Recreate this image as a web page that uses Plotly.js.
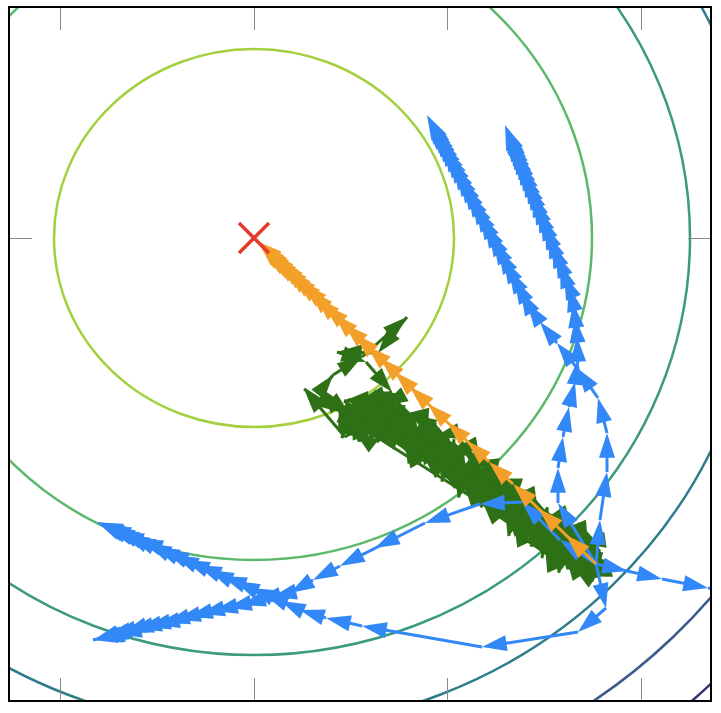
<!DOCTYPE html>
<html><head><meta charset="utf-8">
<script src="https://cdn.plot.ly/plotly-3.0.1.min.js"></script>
<style>html,body{margin:0;padding:0;background:#fff}#chart{width:721px;height:713px}</style>
</head><body><div id="chart"></div>
<script>
// ---- data (units: offset from the minimum) ----
const xTicks = [-194, 0, 193, 387];
const yTicks = [0];

const contourRX = [200, 338, 436, 507, 592, 653];
const contourRY = [189, 322, 417, 491, 565, 624];

const minimumX = [0];
const minimumY = [0];

const orangeX = [342, 312, 285, 259, 235, 213, 193, 174, 156, 141, 126, 113, 101, 90, 80, 70, 62, 55, 48.5, 42.7, 37.6, 33.3, 29, 25.3, 21.7, 18.8, 15.9, 13.8, 11.6, 9.4, 8, 6.5, 5.1, 3.6];
const orangeY = [-326, -297, -271, -246, -224, -203, -184, -166, -149, -134, -120, -108, -96, -86, -76, -67, -59, -52, -46.2, -40.7, -35.9, -31.7, -27.6, -24.2, -20.7, -17.9, -15.2, -13.1, -11, -9, -7.6, -6.2, -4.8, -3.5];

const greenX = [342,
  343, 335, 346, 338, 344,   324, 332, 327, 337, 329,   325, 313, 321, 316, 326,
  308, 314, 304, 313, 305,   300, 296, 307, 299, 302,   293, 285, 296, 288, 294,
  274, 282, 277, 287, 279,   275, 263, 271, 266, 276,   258, 264, 254, 263, 255,
  250, 246, 257, 249, 252,   243, 235, 246, 238, 244,   224, 232, 227, 237, 229,
  225, 213, 221, 216, 226,   208, 214, 204, 213, 205,   200, 196, 207, 199, 202,
  193, 185, 196, 188, 194,   174, 182, 177, 187, 179,   175, 163, 171, 166, 176,
  158, 164, 154, 163, 155,   150, 146, 157, 149, 152,   143, 135, 146, 138, 144,
  124, 132, 127, 137, 129,   125, 113, 121, 116, 126,   108, 114, 104, 113, 105,
  100, 96, 107, 99, 102,     93, 85, 96, 88, 94,
  342, 327, 321, 308, 303, 290, 279, 272, 257, 251, 243, 228, 220, 212, 199, 187, 181, 173, 158, 150, 142, 129, 121, 107, 102, 90,
  339, 332, 317, 311, 300, 293, 278, 271, 262, 247, 240, 231, 218, 213, 199, 192, 180, 167, 161, 152, 138, 130, 123, 109, 101, 88,
  340, 333, 319, 312, 297, 291, 282, 268, 260, 253, 239, 228, 221, 210, 202, 187, 183, 169, 160, 151, 138, 132, 119, 113, 100, 91,
  50, 86, 68, 79, 108, 153, 124, 83, 112, 138, 106, 146, 96, 126, 91];
const greenY = [-326,
  -339.5, -311.1, -320.6, -343.6, -304.4,   -323.9, -302.3, -336.1, -311.7, -296.9,   -328.5, -310.9, -286.4, -332, -298.7,
  -287.6, -331.4, -296.4, -312.2, -334.9,   -278.2, -313.3, -327.3, -294, -283.5,   -315, -278.2, -290.5, -320.3, -269.5,
  -293, -265, -308.8, -277.2, -258,   -293.8, -276.2, -251.7, -297.3, -264,   -250.7, -294.5, -259.5, -275.3, -298,
  -239.2, -274.3, -288.3, -255, -244.5,   -275.4, -238.6, -250.9, -280.7, -229.9,   -253.8, -225.8, -269.6, -238, -218.8,
  -255, -237.4, -212.9, -258.5, -225.2,   -212.3, -256.1, -221.1, -236.9, -259.6,   -201.2, -236.3, -250.3, -217, -206.5,
  -238.4, -201.6, -213.9, -243.7, -192.9,   -217.8, -189.8, -233.6, -202, -182.8,   -220, -202.4, -177.9, -223.5, -190.2,
  -178.3, -222.1, -187.1, -202.9, -225.6,   -167.2, -202.3, -216.3, -183, -172.5,   -200.2, -171.8, -181.3, -204.3, -165.1,
  -188.4, -166.8, -200.6, -176.2, -161.4,   -195.2, -181.6, -162.7, -197.9, -172.2,   -167.1, -200.9, -173.9, -186.1, -203.6,
  -164.4, -191.5, -202.3, -176.6, -168.5,   -196.2, -167.8, -177.3, -200.3, -161.1,
  -303.3, -305.5, -290.7, -291.9, -278, -282, -268, -257, -259, -243, -240.4, -224.8, -223.2, -208.6, -211, -197.4, -198.8, -185.2, -176.6, -176, -161, -168, -165, -170, -162, -163,
  -325.3, -313.5, -317.7, -303.9, -302, -288, -290, -276, -265, -268, -253.4, -249.8, -235.2, -233.6, -218, -222.4, -207.8, -205.2, -201.6, -185, -186, -179, -189, -180, -183, -177,
  -336.3, -338.5, -328.7, -317.9, -323, -309, -305, -301, -284, -274, -275.4, -262.8, -261.2, -245.6, -242, -228.4, -230.8, -217.2, -220.6, -205, -196, -201, -197, -203, -193, -199,
  -151, -174, -151, -137, -119, -79, -115, -114, -124, -154, -162, -156, -174, -182, -167];

const blue1X = [342, 306, 268, 226, 171, 121, 86, 59, 36, 18, 2.5, -13, -27, -41, -54, -66, -78, -89, -99, -108, -117, -125, -131, -137, -142, -147, -151, -154, -156.7, -158.6, -160, -161];
const blue1Y = [-326, -302, -264, -266, -285, -310, -328, -342, -355, -359, -363, -367, -370, -373, -376, -379, -382, -385, -387, -389, -391, -393, -395, -396, -397.5, -399, -400, -400.5, -401, -401.4, -401.8, -402];

const blue2X = [342, 352, 324, 228, 108, 72, 46, 27, 10, -4, -19, -32, -45, -57, -69, -80, -90, -99, -107, -116, -123, -129, -135, -139.5, -144, -148, -150.6, -153, -154.8, -156.1, -157];
const blue2Y = [-326, -370, -394, -409, -388, -380, -372, -363, -356, -350, -343, -338, -332, -327, -322, -317, -313, -309, -305, -302, -299, -296, -293.5, -291.5, -289.5, -288, -286.8, -285.7, -284.9, -284.4, -284];

const blue3X = [342, 373, 408, 454, 506];
const blue3Y = [-326, -333, -341, -350, -359];

const blue4X = [342, 304, 304, 309, 315, 321, 324, 323, 321, 319, 315, 310, 306, 301.6, 297.7, 294, 290.4, 286.8, 283.6, 280.4, 277.6, 274.7, 272.1, 269.6, 267, 264.8, 262.5, 260.6, 258.7, 257.1, 255.5, 254.2, 253.1, 252.3, 251.6, 251];
const blue4Y = [-326, -265, -230, -199, -169, -144, -122, -99, -80, -65, -49, -37, -25.5, -15, -5.3, 4.5, 13.4, 22.3, 30.4, 38.5, 45.8, 53.1, 59.5, 66, 72.5, 78.2, 83.8, 88.7, 93.6, 97.6, 101.7, 104.9, 107.7, 109.8, 111.4, 113];

const blue5X = [342, 346, 353, 353, 344, 323, 303, 286, 273, 266.5, 260.5, 255, 249.5, 244.5, 239.5, 235, 230.5, 226, 222, 218, 214, 210, 206.5, 203, 199.5, 196, 193, 190, 187, 184.5, 182, 180, 178, 176.5, 175.2, 174, 173];
const blue5Y = [-326, -282, -234, -195, -160, -130, -105, -84, -65, -52.8, -41.5, -31.2, -20.8, -11.4, -2, 6.4, 14.9, 23.4, 30.9, 38.4, 45.9, 53.4, 60, 66.6, 73.2, 79.8, 85.4, 91, 96.7, 101.4, 106.1, 109.8, 113.6, 116.4, 118.9, 121.1, 123];

// ---- styles ----
const contourColors = ['#a2d03e', '#5cb86a', '#3c9a80', '#2f7d8b', '#3a5b8c', '#3b2c78'];
const ORANGE = '#f3a02b', GREEN = '#2e7016', BLUE = '#3388f8', RED = '#e63a2a';

function path(x, y, color) {
  return {
    type: 'scatter', mode: 'lines+markers', x: x, y: y,
    line: {color: color, width: 3},
    marker: {symbol: 'arrow', angleref: 'previous', size: 26, color: color, line: {width: 0}},
    hoverinfo: 'skip', cliponaxis: true
  };
}

const traces = [
  path(greenX, greenY, GREEN),
  path(blue1X, blue1Y, BLUE),
  path(blue2X, blue2Y, BLUE),
  path(blue3X, blue3Y, BLUE),
  path(blue4X, blue4Y, BLUE),
  path(blue5X, blue5Y, BLUE),
  path(orangeX, orangeY, ORANGE),
  {type: 'scatter', mode: 'markers', x: minimumX, y: minimumY,
   marker: {symbol: 'x-thin', size: 30, color: RED, line: {color: RED, width: 3.5}}, hoverinfo: 'skip'}
];

const shapes = contourRX.map((rx, i) => ({
  type: 'circle', xref: 'x', yref: 'y', layer: 'below',
  x0: -rx, x1: rx, y0: -contourRY[i], y1: contourRY[i],
  line: {color: contourColors[i], width: 2.5}
}));

const axisCommon = {
  ticks: 'inside', ticklen: 22, tickcolor: '#8a8a8a', tickwidth: 1,
  showticklabels: false, showgrid: false, zeroline: false,
  showline: true, linecolor: '#000', linewidth: 2, mirror: 'ticks'
};

const layout = {
  width: 721, height: 713,
  margin: {l: 10, r: 11, t: 8, b: 13, pad: 0},
  paper_bgcolor: '#fff', plot_bgcolor: '#fff',
  showlegend: false,
  xaxis: Object.assign({range: [-244, 456], tickvals: xTicks}, axisCommon),
  yaxis: Object.assign({range: [-462, 230], tickvals: yTicks}, axisCommon),
  shapes: shapes
};

Plotly.newPlot('chart', traces, layout, {staticPlot: true, displayModeBar: false});
</script></body></html>
